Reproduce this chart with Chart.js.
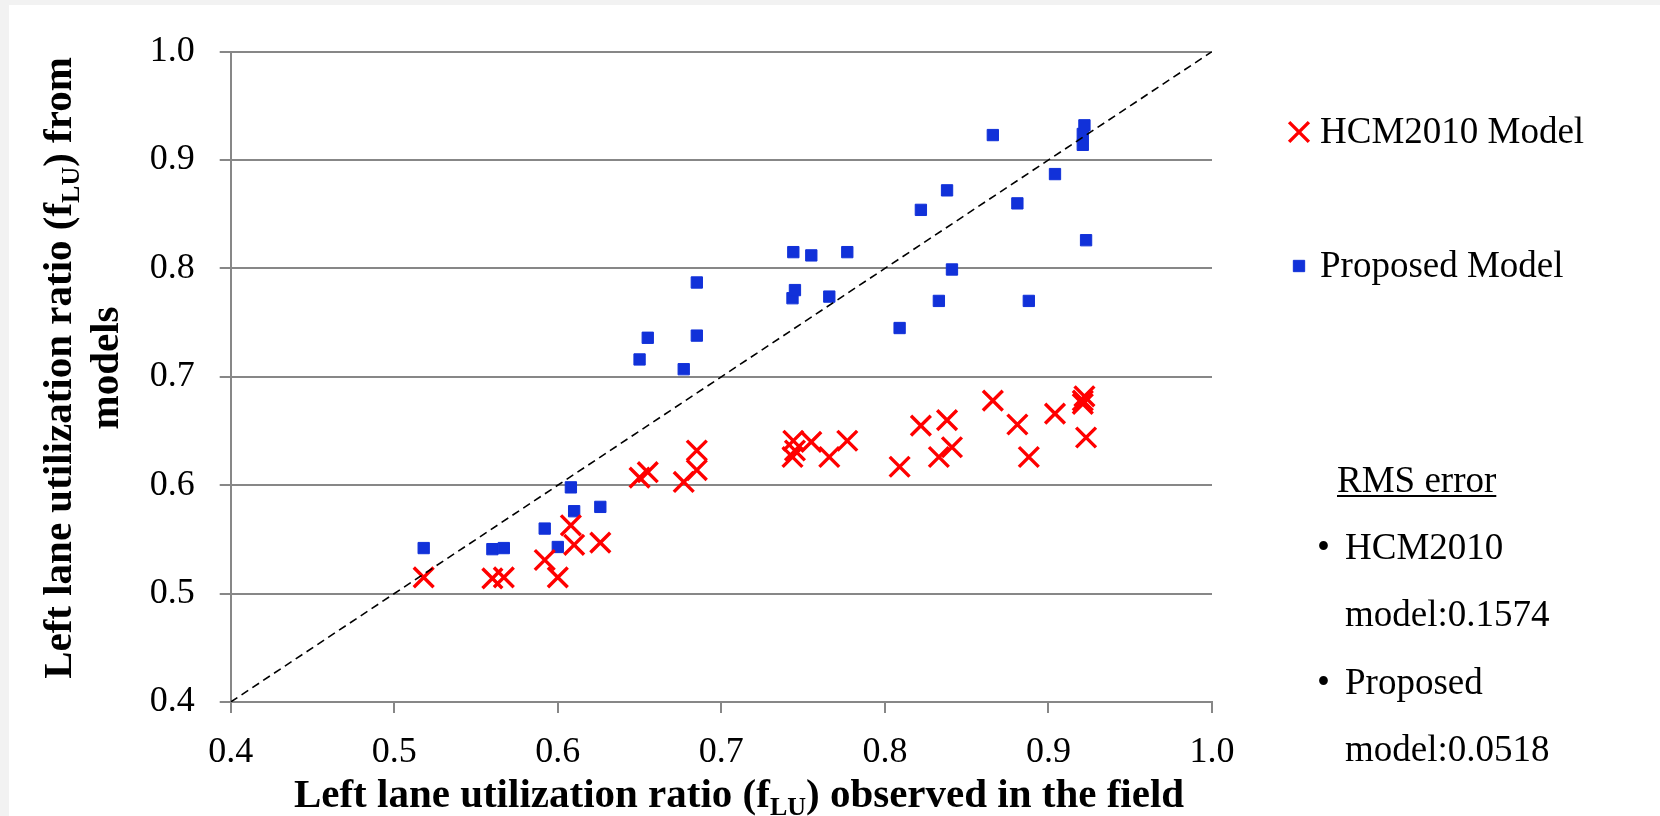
<!DOCTYPE html>
<html>
<head>
<meta charset="utf-8">
<title>Left lane utilization ratio</title>
<script src="https://cdn.jsdelivr.net/npm/chart.js@4.4.1/dist/chart.umd.min.js"></script>
<style>
  html, body { margin: 0; padding: 0; background: #f2f2f2; }
  #wrap { position: absolute; left: 9px; top: 5px; width: 1651px; height: 811px; background: #fff; }
</style>
</head>
<body>
<div id="wrap"><canvas id="fluChart" width="1651" height="811"></canvas></div>
<script>
// observed fLU in the field (x) and what each model predicts (y)
var observed = [0.518, 0.560, 0.567, 0.592, 0.600, 0.608, 0.610, 0.626,
                0.650, 0.655, 0.677, 0.685, 0.685, 0.7435, 0.744, 0.745,
                0.755, 0.766, 0.777, 0.809, 0.822, 0.833, 0.838, 0.841,
                0.866, 0.881, 0.888, 0.904, 0.921, 0.921, 0.922, 0.923];
var hcm2010 = [0.515, 0.514, 0.515, 0.531, 0.515, 0.563, 0.545, 0.547,
               0.607, 0.612, 0.603, 0.614, 0.632, 0.626, 0.641, 0.632,
               0.640, 0.626, 0.641, 0.617, 0.655, 0.626, 0.660, 0.635,
               0.678, 0.656, 0.626, 0.666, 0.675, 0.678, 0.682, 0.644];
var proposed = [0.542, 0.541, 0.542, 0.560, 0.543, 0.598, 0.576, 0.580,
                0.716, 0.736, 0.707, 0.738, 0.787, 0.7725, 0.815, 0.780,
                0.812, 0.774, 0.815, 0.745, 0.854, 0.770, 0.872, 0.799,
                0.923, 0.860, 0.770, 0.887, 0.914, 0.924, 0.932, 0.826];
var refLine = [0.4, 1.0];   // y = x
var tickValues = [0.4, 0.5, 0.6, 0.7, 0.8, 0.9, 1.0];
var tickLabels = ['0.4', '0.5', '0.6', '0.7', '0.8', '0.9', '1.0'];

var seriesNames = ['HCM2010 Model', 'Proposed Model'];
var rmsLines = ['HCM2010', 'model:0.1574', 'Proposed', 'model:0.0518'];

var RED = '#ff0000';
var BLUE = '#1131d9';
var GRID = '#878787';
var SERIF = '"Liberation Serif", "Times New Roman", serif';

function toPoints(ys) {
    return observed.map(function (x, i) { return {x: x, y: ys[i]}; });
}

function partsWidth(ctx, parts) {
    var w = 0;
    parts.forEach(function (p) {
        ctx.font = p.font;
        w += ctx.measureText(p.text).width;
    });
    return w;
}

function drawParts(ctx, parts, cx, y) {
    var x = cx - partsWidth(ctx, parts) / 2;
    parts.forEach(function (p) {
        ctx.font = p.font;
        ctx.fillText(p.text, x, y + (p.dy || 0));
        x += ctx.measureText(p.text).width;
    });
}

var titleFont = 'bold 41px ' + SERIF;
var subFont = 'bold 26px ' + SERIF;
var textFont = '37px ' + SERIF;

// axis titles with the LU subscript, the legend and the RMS note
var sideText = {
    id: 'sideText',
    afterDraw: function (chart) {
        var ctx = chart.ctx;
        ctx.save();
        ctx.fillStyle = '#000';
        ctx.textAlign = 'left';
        ctx.textBaseline = 'alphabetic';

        drawParts(ctx, [
            {text: 'Left lane utilization ratio (f', font: titleFont},
            {text: 'LU', font: subFont, dy: 8},
            {text: ') observed in the field', font: titleFont}
        ], 730, 802);

        ctx.save();
        ctx.translate(62, 363);
        ctx.rotate(-Math.PI / 2);
        drawParts(ctx, [
            {text: 'Left lane utilization ratio (f', font: titleFont},
            {text: 'LU', font: subFont, dy: 8},
            {text: ') from', font: titleFont}
        ], 0, 0);
        ctx.restore();
        ctx.save();
        ctx.translate(109, 363);
        ctx.rotate(-Math.PI / 2);
        drawParts(ctx, [{text: 'models', font: titleFont}], 0, 0);
        ctx.restore();

        // legend
        var marks = [
            {style: 'crossRot', radius: 14, width: 3.4, color: RED, y: 127},
            {style: 'rect', radius: 8, width: 1, color: BLUE, y: 261}
        ];
        marks.forEach(function (m, i) {
            ctx.strokeStyle = m.color;
            ctx.fillStyle = m.color;
            ctx.lineWidth = m.width;
            Chart.helpers.drawPoint(ctx, {pointStyle: m.style, radius: m.radius, rotation: 0, borderWidth: m.width}, 1290, m.y);
            ctx.fillStyle = '#000';
            ctx.font = textFont;
            ctx.fillText(seriesNames[i], 1311, m.y + 11);
        });

        // RMS error note
        ctx.fillStyle = '#000';
        ctx.font = textFont;
        ctx.fillText('RMS error', 1328, 487);
        var w = ctx.measureText('RMS error').width;
        ctx.fillRect(1328, 490, w, 2);
        var base = [554, 621, 689, 756];
        rmsLines.forEach(function (t, i) {
            if (i % 2 === 0) ctx.fillText('\u2022', 1308, base[i]);
            ctx.fillText(t, 1336, base[i]);
        });
        ctx.restore();
    }
};

var tickFont = {family: SERIF, size: 36};

var fluChart = new Chart(document.getElementById('fluChart'), {
    type: 'scatter',
    data: {
        datasets: [{
            label: 'y = x',
            data: refLine.map(function (v) { return {x: v, y: v}; }),
            showLine: true,
            borderColor: '#000',
            borderWidth: 1.6,
            borderDash: [8, 5],
            pointRadius: 0,
            order: 0
        }, {
            label: seriesNames[0],
            data: toPoints(hcm2010),
            pointStyle: 'crossRot',
            pointRadius: 14,
            borderColor: RED,
            backgroundColor: RED,
            borderWidth: 3.4,
            order: 1
        }, {
            label: seriesNames[1],
            data: toPoints(proposed),
            pointStyle: 'rect',
            pointRadius: 8,
            borderColor: BLUE,
            backgroundColor: BLUE,
            borderWidth: 1,
            order: 2
        }]
    },
    options: {
        responsive: false,
        animation: false,
        devicePixelRatio: 1,
        layout: {
            padding: {left: 0, top: 41, right: 448, bottom: 0}
        },
        scales: {
            x: {
                type: 'linear',
                min: 0.4,
                max: 1.0,
                afterBuildTicks: function (s) { s.ticks = tickValues.map(function (v) { return {value: v}; }); },
                afterFit: function (s) { s.height = 114; },
                ticks: {
                    color: '#000',
                    font: tickFont,
                    padding: 18,
                    maxRotation: 0,
                    callback: function (v, i) { return tickLabels[i]; }
                },
                grid: {drawOnChartArea: false, tickLength: 11, color: GRID, lineWidth: 2},
                border: {color: GRID, width: 2}
            },
            y: {
                min: 0.4,
                max: 1.0,
                afterBuildTicks: function (s) { s.ticks = tickValues.map(function (v) { return {value: v}; }); },
                afterFit: function (s) { s.width = 221.7; },
                ticks: {
                    color: '#000',
                    font: tickFont,
                    padding: 25,
                    callback: function (v, i) { return tickLabels[i]; }
                },
                grid: {tickLength: 11, color: GRID, lineWidth: 2},
                border: {color: GRID, width: 2}
            }
        },
        plugins: {
            legend: {display: false},
            tooltip: {enabled: false}
        }
    },
    plugins: [sideText]
});
</script>
</body>
</html>
